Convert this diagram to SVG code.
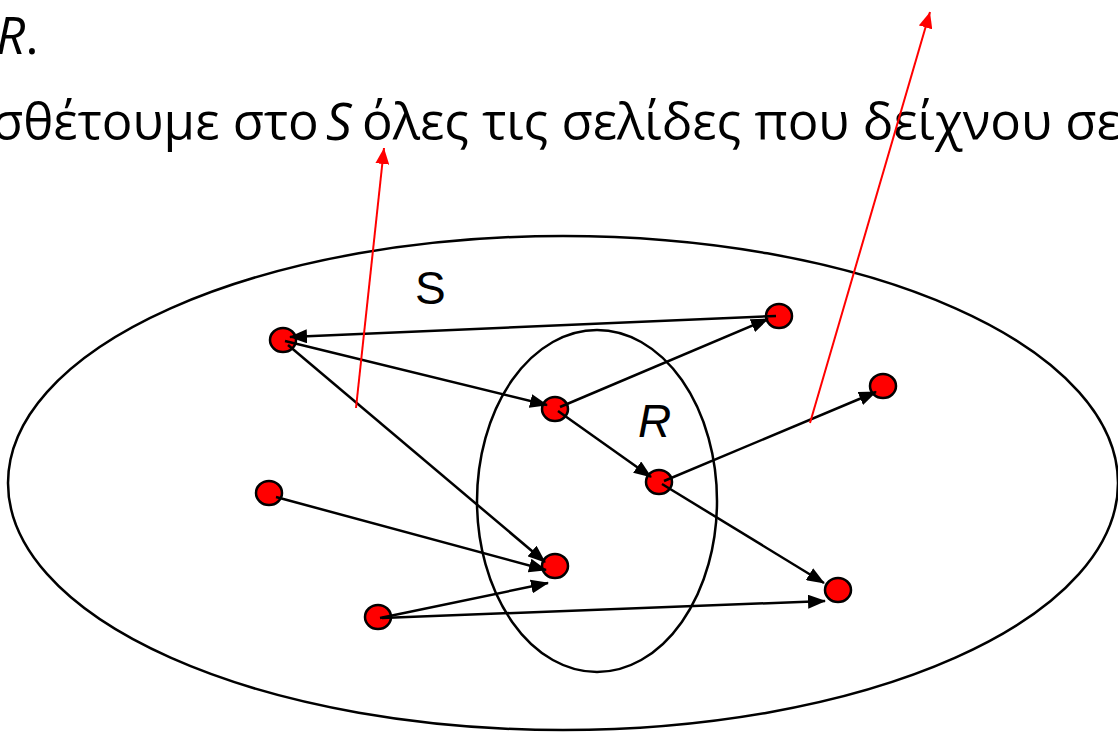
<svg xmlns="http://www.w3.org/2000/svg" width="1118" height="733" viewBox="0 0 1118 733">
<style>
.txt{font-family:"Open Sans","Noto Sans",sans-serif;font-size:51px;fill:#000}
.lbl{font-family:"Liberation Sans",Arial,sans-serif;font-size:46px;fill:#000}
.set{fill:none;stroke:#000;stroke-width:2.5}
.node{fill:#f00;stroke:#000;stroke-width:2.5}
.edge{stroke:#000;stroke-width:2.5;fill:none;marker-end:url(#ah)}
.red{stroke:#f00;stroke-width:2;fill:none;marker-end:url(#rh)}
</style>
<defs>
<marker id="ah" markerUnits="userSpaceOnUse" markerWidth="18" markerHeight="14" refX="17" refY="7" orient="auto" viewBox="0 0 18 14"><path d="M0,0 L18,7 L0,14 z" fill="#000"/></marker>
<marker id="rh" markerUnits="userSpaceOnUse" markerWidth="16" markerHeight="14" refX="16" refY="7" orient="auto" viewBox="0 0 16 14"><path d="M0,0 L16,7 L0,14 z" fill="#f00"/></marker>
</defs>
<rect width="1118" height="733" fill="#fff"/>
<g id="text">
<text class="txt" x="-4" y="54" font-style="italic">R<tspan font-style="normal">.</tspan></text>
<text class="txt" x="-8" y="140">σθέτουμε στο <tspan x="326" font-style="italic">S</tspan><tspan x="362">όλες τις σελίδες που δείχνου σε</tspan></text>
</g>
<g id="setS"><ellipse class="set" cx="563" cy="483" rx="555" ry="247"/><text class="lbl" x="415" y="304">S</text></g>
<g id="setR"><ellipse class="set" cx="597" cy="501" rx="120" ry="171"/><text class="lbl" x="638" y="437" font-style="italic">R</text></g>
<g id="nA"><ellipse class="node" cx="283" cy="340" rx="13" ry="12"/></g>
<g id="nB"><ellipse class="node" cx="779" cy="316" rx="13" ry="12"/></g>
<g id="nC"><ellipse class="node" cx="555" cy="409" rx="13" ry="12"/></g>
<g id="nD"><ellipse class="node" cx="883" cy="386" rx="13" ry="12"/></g>
<g id="nE"><ellipse class="node" cx="659" cy="482" rx="13" ry="12"/></g>
<g id="nF"><ellipse class="node" cx="269" cy="493" rx="13" ry="12"/></g>
<g id="nG"><ellipse class="node" cx="555" cy="566" rx="13" ry="12"/></g>
<g id="nH"><ellipse class="node" cx="378" cy="617" rx="13" ry="12"/></g>
<g id="nI"><ellipse class="node" cx="838" cy="590" rx="13" ry="12"/></g>
<g id="connectors">
<line class="edge" x1="776" y1="316" x2="290" y2="337"/>
<line class="edge" x1="285" y1="341" x2="547" y2="405"/>
<line class="edge" x1="560" y1="407" x2="768" y2="319"/>
<line class="edge" x1="558" y1="411" x2="651" y2="477"/>
<line class="edge" x1="288" y1="345" x2="545" y2="562"/>
<line class="edge" x1="276" y1="497" x2="546" y2="570"/>
<line class="edge" x1="380" y1="618" x2="548" y2="583"/>
<line class="edge" x1="382" y1="618" x2="825" y2="601"/>
<line class="edge" x1="662" y1="484" x2="824" y2="583"/>
<line class="edge" x1="664" y1="481" x2="876" y2="392"/>
<line class="red" x1="356" y1="408" x2="384" y2="148"/>
<line class="red" x1="810" y1="423" x2="930" y2="12"/>
</g>
</svg>
